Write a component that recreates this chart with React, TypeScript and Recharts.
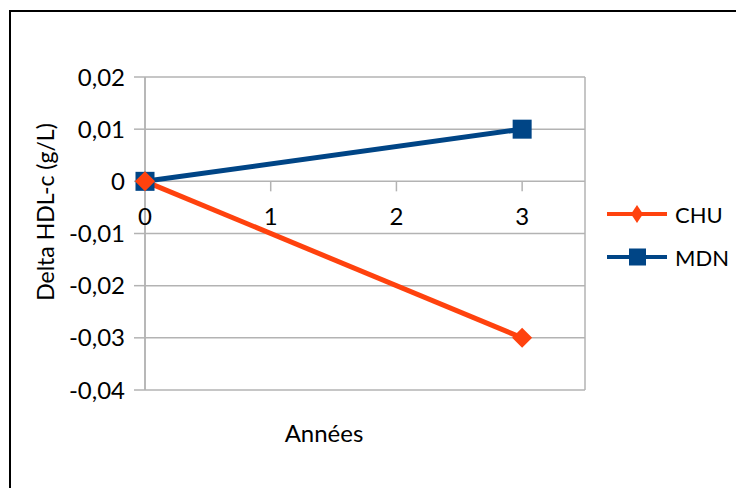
import React from 'react';
import {
  LineChart,
  Line,
  XAxis,
  YAxis,
  CartesianGrid,
  ReferenceDot,
  Legend,
} from 'recharts';

// années de suivi et variation du HDL-c (g/L)
const years = [0, 3];
const chuValues = [0, -0.03];
const mdnValues = [0, 0.01];

const xTicks = [0, 1, 2, 3];
const xGridTicks = [0, 1, 2, 3, 3.5];
const yTicks = [-0.04, -0.03, -0.02, -0.01, 0, 0.01, 0.02];

const series = [
  { key: 'chu', name: 'CHU', color: '#ff420e', marker: 'diamond' },
  { key: 'mdn', name: 'MDN', color: '#004586', marker: 'square' },
];

const data = years.map((x, i) => ({ x, chu: chuValues[i], mdn: mdnValues[i] }));

const FONT = 'Lato, "Open Sans", sans-serif';
const GRID = '#b3b3b3';

const fmt = (v: number) => (v === 0 ? '0' : v.toFixed(2).replace('.', ','));

const Diamond = (props: any) => {
  const { cx, cy } = props;
  if (cx == null || cy == null) return null;
  const r = 10;
  return (
    <polygon
      points={`${cx},${cy - r} ${cx + r},${cy} ${cx},${cy + r} ${cx - r},${cy}`}
      fill="#ff420e"
    />
  );
};

const Square = (props: any) => {
  const { cx, cy } = props;
  if (cx == null || cy == null) return null;
  const s = 19;
  return <rect x={cx - s / 2} y={cy - s / 2} width={s} height={s} fill="#004586" />;
};

// graduation de l'axe X posée sur y = 0
const XTickAtZero = (label: string) => (props: any) => {
  const { cx, cy } = props;
  if (cx == null || cy == null) return null;
  return (
    <g>
      <line x1={cx} y1={cy} x2={cx} y2={cy + 10} stroke={GRID} strokeWidth={1.5} />
      <text
        x={cx}
        y={cy + 44}
        textAnchor="middle"
        fontFamily={FONT}
        fontSize={24}
        fill="#000"
      >
        {label}
      </text>
    </g>
  );
};

const LegendBox = () => (
  <svg width={130} height={80}>
    {series.map((s, i) => {
      const y = 18 + i * 43;
      return (
        <g key={s.key}>
          <line x1={7} y1={y} x2={67} y2={y} stroke={s.color} strokeWidth={4} />
          {s.marker === 'diamond' ? (
            <polygon points={`37,${y - 9} 43,${y} 37,${y + 9} 31,${y}`} fill={s.color} />
          ) : (
            <rect x={29} y={y - 8.5} width={17} height={17} fill={s.color} />
          )}
          <text
            x={75}
            y={y}
            dominantBaseline="central"
            fontFamily={FONT}
            fontSize={22}
            fill="#000"
          >
            {s.name}
          </text>
        </g>
      );
    })}
  </svg>
);

export default function App() {
  return (
    <div
      style={{
        position: 'absolute',
        left: 0,
        top: 0,
        width: 736,
        height: 488,
        overflow: 'hidden',
        background: '#fff',
      }}
    >
      <div
        style={{
          position: 'absolute',
          left: 9,
          top: 10,
          width: 800,
          height: 600,
          borderTop: '2px solid #000',
          borderLeft: '2px solid #000',
        }}
      />
      <LineChart
        width={736}
        height={488}
        data={data}
        margin={{ top: 77, right: 151, left: 0, bottom: 97 }}
        style={{ position: 'absolute', left: 0, top: 0 }}
      >
        <CartesianGrid stroke={GRID} strokeWidth={1.5} />
        <XAxis
          dataKey="x"
          type="number"
          domain={[0, 3.5]}
          ticks={xGridTicks}
          tick={false}
          axisLine={false}
          tickLine={false}
          height={1}
          label={() => (
            <text
              x={324}
              y={442}
              textAnchor="middle"
              fontFamily={FONT}
              fontSize={24}
              fill="#000"
            >
              Années
            </text>
          )}
        />
        <YAxis
          type="number"
          domain={[-0.04, 0.02]}
          ticks={yTicks}
          width={145}
          tickFormatter={fmt}
          tickSize={11}
          tickMargin={9}
          tick={{ fontFamily: FONT, fontSize: 24, fill: '#000' }}
          tickLine={{ stroke: GRID, strokeWidth: 1.5 }}
          axisLine={{ stroke: GRID, strokeWidth: 1.5 }}
          label={() => (
            <text
              transform="translate(45,212) rotate(-90)"
              textAnchor="middle"
              dominantBaseline="central"
              fontFamily={FONT}
              fontSize={23}
              fill="#000"
            >
              Delta HDL-c (g/L)
            </text>
          )}
        />
        {xTicks.map((t) => (
          <ReferenceDot key={t} x={t} y={0} r={0} shape={XTickAtZero(String(t))} />
        ))}
        <Line
          dataKey="mdn"
          name="MDN"
          stroke="#004586"
          strokeWidth={5}
          dot={<Square />}
          activeDot={false}
          isAnimationActive={false}
        />
        <Line
          dataKey="chu"
          name="CHU"
          stroke="#ff420e"
          strokeWidth={5}
          dot={<Diamond />}
          activeDot={false}
          isAnimationActive={false}
        />
        <Legend
          layout="vertical"
          align="center"
          verticalAlign="middle"
          content={() => <LegendBox />}
          wrapperStyle={{ position: 'absolute', left: 600, top: 196, width: 130 }}
        />
      </LineChart>
    </div>
  );
}
